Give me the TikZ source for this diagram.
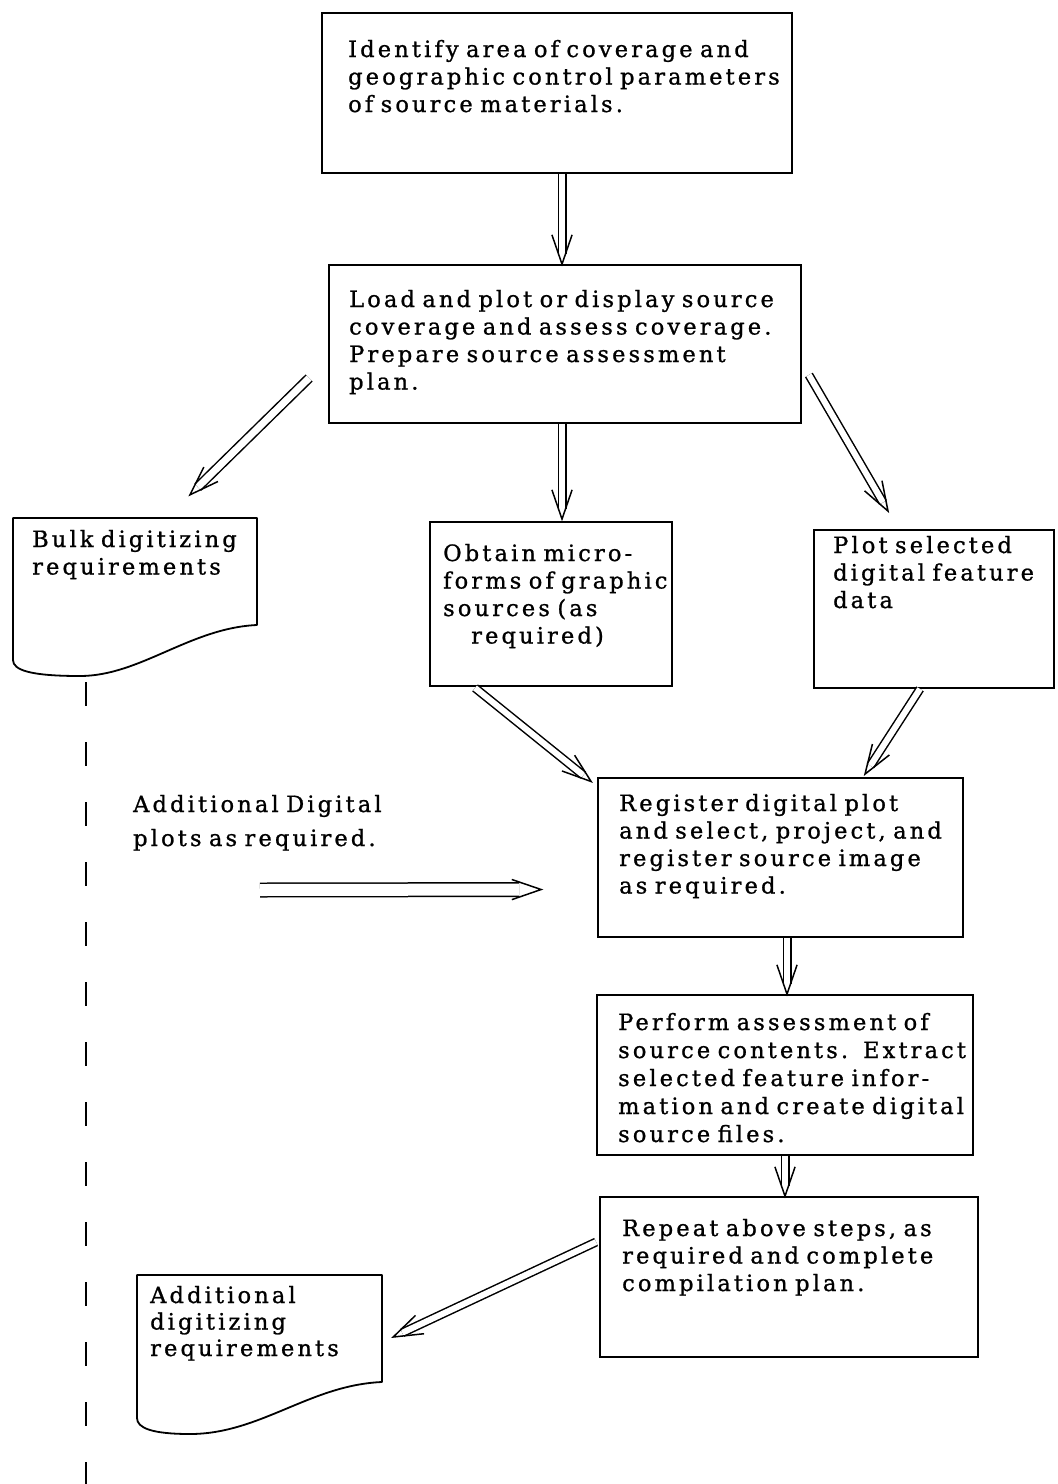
\documentclass[tikz,border=0pt]{standalone}
\usepackage{fontspec}
\setmainfont{DejaVu Serif}[LetterSpace=14, FakeBold=1]
\usetikzlibrary{calc}
\tikzset{
  box/.style={draw, line width=1.8pt, inner sep=0pt},
  docarea/.style={inner sep=0pt},
  docline/.style={draw, line width=1.8pt, line join=round},
  txt/.style={anchor=base west, inner sep=0pt, text width=440pt, align=left,
              font=\fontsize{22.5}{27.5}\selectfont},
  dashline/.style={line width=1.6pt, dash pattern=on 24pt off 36pt},
  arrline/.style={line width=1.5pt},
}
\newcommand\dblarr[4]{% gap, shortening, from, to
  \draw[arrline, double, double distance=#1] (#3) -- ($(#4)!#2!(#3)$);
  \draw[arrline, line join=miter] ($(#4)!31pt!19:(#3)$) -- (#4) -- ($(#4)!31pt!-19:(#3)$);
}
\begin{document}
\begin{tikzpicture}[x=1pt, y=-1pt]
\fill[white] (0,0) rectangle (1058,1484);
\useasboundingbox (0,0) rectangle (1058,1484);

% boxes
\node[box, minimum width=470pt, minimum height=160pt] (b1) at (557,93) {};
\node[box, minimum width=472pt, minimum height=158pt] (b2) at (565,344) {};
\node[box, minimum width=242pt, minimum height=164pt] (micro) at (551,604) {};
\node[box, minimum width=240pt, minimum height=158pt] (plot) at (934,609) {};
\node[box, minimum width=365pt, minimum height=159pt] (reg) at (780.5,857.5) {};
\node[box, minimum width=376pt, minimum height=160pt] (perf) at (785,1075) {};
\node[box, minimum width=378pt, minimum height=160pt] (rep) at (789,1277) {};

% document shapes
\node[docarea, minimum width=244pt, minimum height=158pt] (bulk) at (135,597) {};
\draw[docline] (13,518) -- (257,518) -- (257,625)
  .. controls (190,628) and (140,676) .. (80,676)
  .. controls (30,676) and (13,670) .. (13,660) -- cycle;
\node[docarea, minimum width=245pt, minimum height=160pt] (addoc) at (259.5,1355) {};
\draw[docline] (137,1275) -- (382,1275) -- (382,1382)
  .. controls (310,1385) and (260,1434) .. (190,1434)
  .. controls (152,1434) and (137,1428) .. (137,1418) -- cycle;

% texts
\node[txt] (t1) at (348,57) {Identify area of coverage and\\geographic control parameters\\of source materials.};
\node[txt] (t2) at (349,307) {Load and plot or display source\\coverage and assess coverage.\\Prepare source assessment\\plan.};
\node[txt] (tbulk) at (32,547) {Bulk digitizing\\requirements};
\node[txt] (tmicro) at (443,561) {Obtain micro-\\forms of graphic\\sources (as\\\hspace*{28pt}required)};
\node[txt] (tplot) at (833,553) {Plot selected\\digital feature\\data};
\node[txt, font=\fontsize{22.5}{34}\selectfont] (taddl) at (133,812) {Additional Digital\\plots as required.};
\node[txt] (treg) at (619,811) {Register digital plot\\and select, project, and\\register source image\\as required.};
\node[txt, font=\fontsize{22.5}{28}\selectfont] (tperf) at (618,1030) {Perform assessment of\\source contents.\ \ Extract\\selected feature infor-\\mation and create digital\\source files.};
\node[txt] (trep) at (622,1236) {Repeat above steps, as\\required and complete\\compilation plan.};
\node[txt, font=\fontsize{22.5}{26.5}\selectfont] (tadd) at (150,1303) {Additional\\digitizing\\requirements};

% arrow end points
\coordinate (a1s) at ($(b1.south)+(5,0)$);
\coordinate (a1e) at ($(b2.north)+(-3,0)$);
\coordinate (a2s) at ($(b2.west)+(-19,34)$);
\coordinate (a2e) at ($(bulk.north)+(55,-23)$);
\coordinate (a3s) at ($(b2.south)+(-3,0)$);
\coordinate (a3e) at ($(micro.north)+(11,-2)$);
\coordinate (a4s) at ($(b2.east)+(7,31)$);
\coordinate (a4e) at ($(plot.north)+(-46,-18)$);
\coordinate (a5s) at ($(micro.south)+(-76,1)$);
\coordinate (a5e) at ($(reg.west)+(-6,-76)$);
\coordinate (a6s) at ($(plot.south)+(-14,0)$);
\coordinate (a6e) at ($(reg.north)+(84.5,-3)$);
\coordinate (a7s) at ($(taddl.base west)+(127,78)$);
\coordinate (a7e) at ($(reg.west)+(-56,32)$);
\coordinate (a8s) at ($(reg.south)+(6.5,0)$);
\coordinate (a8e) at ($(perf.north)+(2,0)$);
\coordinate (a9s) at (perf.south);
\coordinate (a9e) at ($(rep.north)+(-4,0)$);
\coordinate (a10s) at ($(rep.west)+(-3,-35)$);
\coordinate (a10e) at ($(addoc.east)+(11,-18)$);
\coordinate (dashs) at ($(bulk.south)+(-49,6)$);
\coordinate (dashe) at (86,1484);

% dashed line
\draw[dashline] (dashs) -- (dashe);

% arrows
\dblarr{6pt}{10pt}{a1s}{a1e}
\dblarr{7pt}{11pt}{a2s}{a2e}
\dblarr{6pt}{10pt}{a3s}{a3e}
\dblarr{6pt}{10pt}{a4s}{a4e}
\dblarr{6pt}{10pt}{a5s}{a5e}
\dblarr{6pt}{10pt}{a6s}{a6e}
\dblarr{12pt}{22pt}{a7s}{a7e}
\dblarr{6pt}{10pt}{a8s}{a8e}
\dblarr{6pt}{10pt}{a9s}{a9e}
\dblarr{6pt}{10pt}{a10s}{a10e}
\end{tikzpicture}
\end{document}
